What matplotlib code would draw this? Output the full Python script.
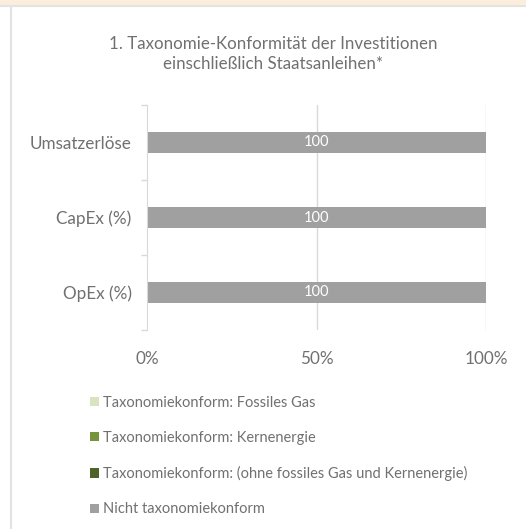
import matplotlib.pyplot as plt
from matplotlib.patches import Patch, Rectangle
from matplotlib.lines import Line2D

plt.rcParams["font.family"] = ["Lato", "DejaVu Sans"]

categories = ["Umsatzerlöse", "CapEx (%)", "OpEx (%)"]
series_names = [
    "Taxonomiekonform: Fossiles Gas",
    "Taxonomiekonform: Kernenergie",
    "Taxonomiekonform: (ohne fossiles Gas und Kernenergie)",
    "Nicht taxonomiekonform",
]
fossil_gas = [0, 0, 0]
nuclear = [0, 0, 0]
other_aligned = [0, 0, 0]
not_aligned = [100, 100, 100]
series_values = [fossil_gas, nuclear, other_aligned, not_aligned]
colors = ["#D7E4BD", "#77933C", "#4F6228", "#A0A0A0"]
xticks = [0, 50, 100]
xtick_labels = ["0%", "50%", "100%"]

text_color = "#707070"
grid_color = "#D9D9D9"

fig = plt.figure(figsize=(5.26, 5.29), dpi=100)
ax = fig.add_axes([147 / 526, 1 - 330 / 529, (486 - 147) / 526, 225 / 529])

ypos = list(range(len(categories)))
left = [0, 0, 0]
for vals, col, name in zip(series_values, colors, series_names):
    bars = ax.barh(ypos, vals, left=left, height=0.29, color=col, label=name)
    for b, v in zip(bars, vals):
        if v > 0:
            ax.text(b.get_x() + b.get_width() / 2, b.get_y() + b.get_height() / 2,
                    f"{v}", ha="center", va="center", color="white", fontsize=10.5)
    left = [l + v for l, v in zip(left, vals)]

ax.set_xlim(0, 100)
ax.set_ylim(len(categories) - 0.5, -0.5)
ax.set_xticks(xticks)
ax.set_xticklabels(xtick_labels, fontsize=12.3, color=text_color)
ax.tick_params(axis="x", length=0, pad=15)
ax.set_yticks(ypos)
ax.set_yticklabels(categories, fontsize=12.3, color=text_color)
ax.tick_params(axis="y", length=0, pad=11)
ax.set_yticks([i - 0.5 for i in range(len(categories) + 1)], minor=True)
ax.tick_params(axis="y", which="minor", length=4, color=grid_color, width=1)

for x in xticks[1:]:
    ax.axvline(x, color=grid_color, lw=1, zorder=0)
for s in ["top", "right", "bottom"]:
    ax.spines[s].set_visible(False)
ax.spines["left"].set_color(grid_color)

fig.text(0.52, 1 - 54 / 529, "1. Taxonomie-Konformität der Investitionen\neinschließlich Staatsanleihen*",
         ha="center", va="center", fontsize=12.2, color=text_color, linespacing=1.3)

handles = [Patch(facecolor=c, edgecolor="none") for c in colors]
fig.legend(handles, series_names, loc="upper left", bbox_to_anchor=(84 / 526, 1 - 390 / 529),
           frameon=False, fontsize=10.5, labelcolor=text_color, handlelength=0.6,
           handleheight=0.6, handletextpad=0.3, labelspacing=1.45, borderaxespad=0)

# panel decoration
fig.patches.append(Rectangle((0, 1 - 5 / 529), 1, 5 / 529, transform=fig.transFigure,
                             facecolor="#FCEEDC", edgecolor="none"))
fig.lines.append(Line2D([0, 1], [1 - 6 / 529] * 2, transform=fig.transFigure, color="#E3E3E3", lw=1.5))
fig.lines.append(Line2D([10.5 / 526] * 2, [0, 1 - 6 / 529], transform=fig.transFigure, color="#E3E3E3", lw=1.5))

fig.savefig("out.png", dpi=100)
